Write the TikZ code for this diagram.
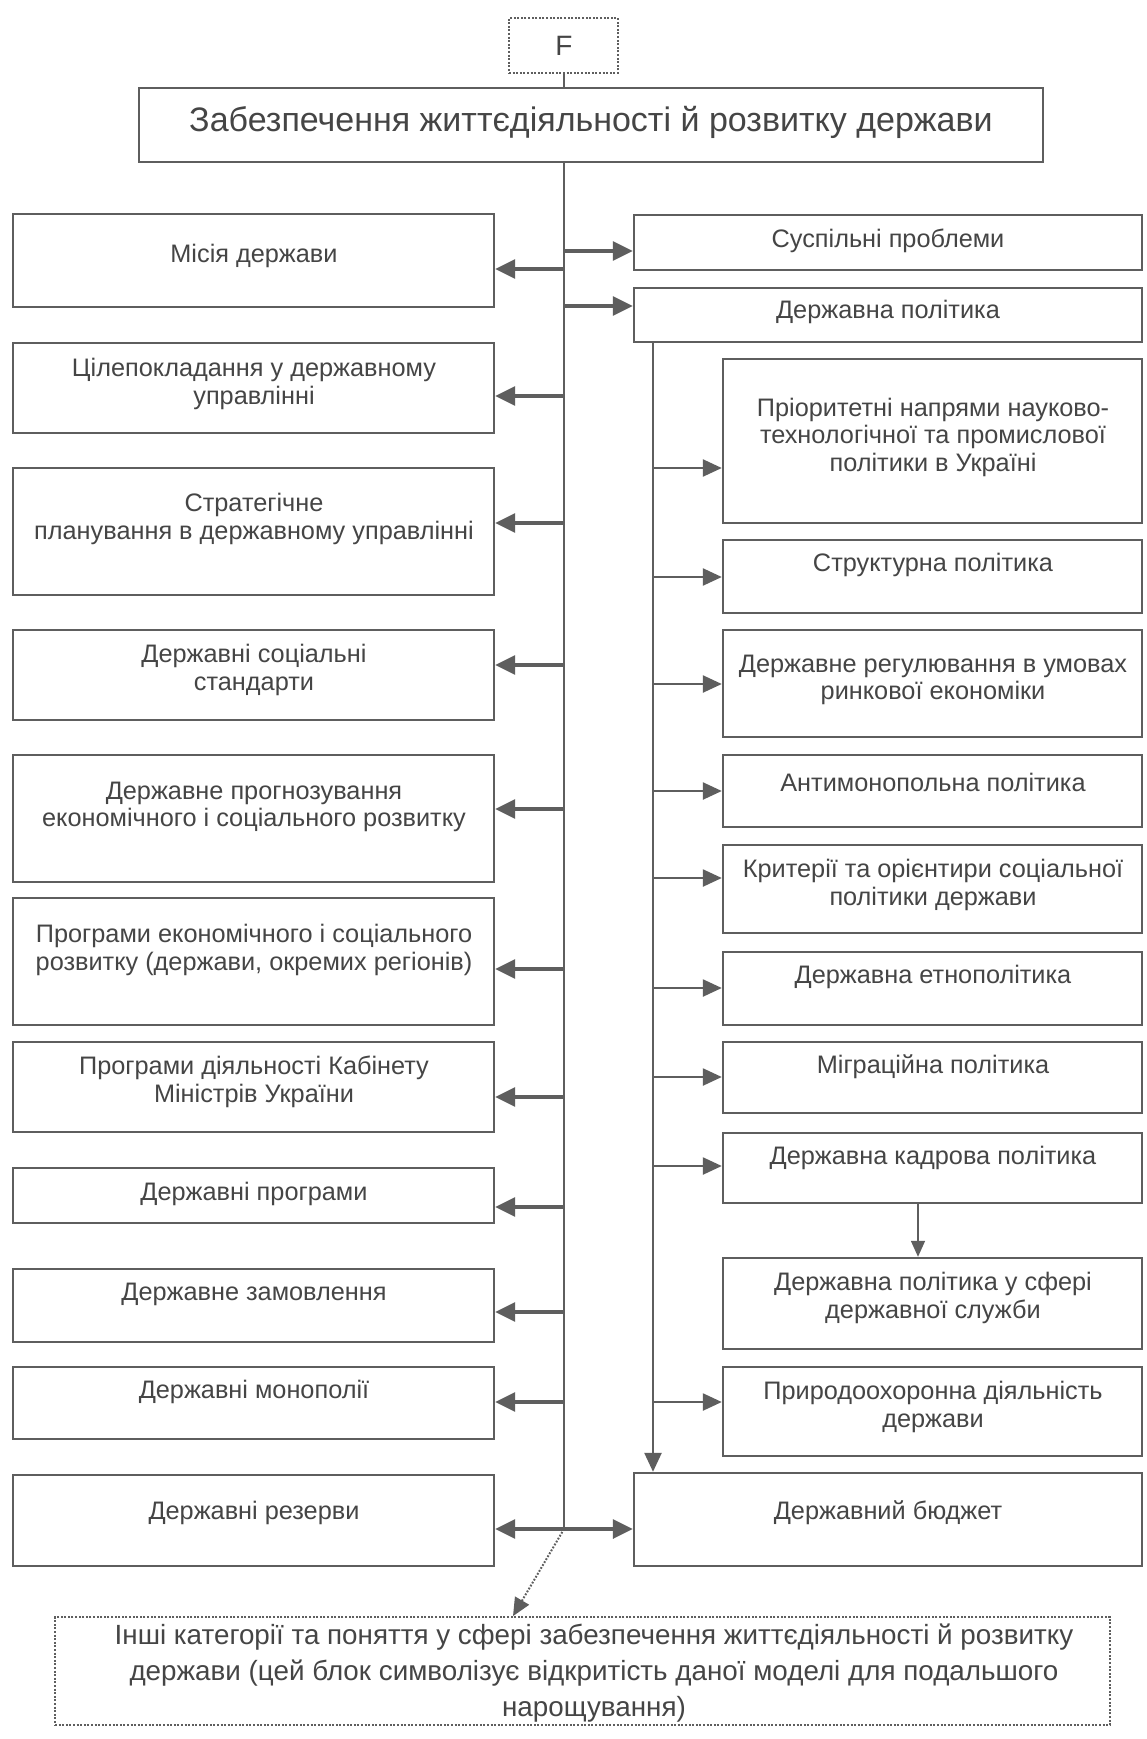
\documentclass[tikz,border=0pt]{standalone}
\usepackage{fontspec}
\setmainfont{Liberation Sans}
\usetikzlibrary{arrows.meta}
\definecolor{ln}{HTML}{5E5E5E}
\definecolor{tx}{HTML}{454545}
\newcommand\bx[6][]{\node[box,minimum width={#4-#2},minimum height={#5-#3},#1] (#6) at ({(#2+#4)/2},{(#3+#5)/2}) {};}
\newcommand\larr[2]{\draw[arr] (tr |- 0,#2) -- (#1.east |- 0,#2);}
\newcommand\rarr[2]{\draw[arr] (tr |- 0,#2) -- (#1.west |- 0,#2);}
\newcommand\sarr[2]{\draw[sarrow] (st |- 0,#2) -- (#1.west |- 0,#2);}
\begin{document}
\begin{tikzpicture}[x=1pt,y=-1pt,
  box/.style={draw=ln,line width=2.4pt,rectangle,inner sep=0pt,fill=white},
  dbox/.style={draw=ln,line width=1.8pt,dash pattern=on 2pt off 1.6pt},
  txt/.style={text=tx,align=center,inner sep=0pt,font=\fontsize{25.3}{27.5}\selectfont},
  trunk/.style={draw=ln,line width=1.7pt},
  arr/.style={draw=ln,line width=3.2pt,-{Triangle[length=20pt,width=19pt]}},
  sarrow/.style={draw=ln,line width=2.4pt,-{Triangle[length=19pt,width=17pt]}},
  darr/.style={draw=ln,line width=1.5pt,-{Triangle[length=16pt,width=14pt]}},
  dotarr/.style={draw=ln,line width=2pt,dash pattern=on 1.8pt off 1.6pt,-{Triangle[length=18pt,width=16pt]}}]
\useasboundingbox[fill=white] (0,0) rectangle (1146,1739);

% top
\bx[dbox]{509}{18}{618}{73}{F}
\node[text=tx,font=\fontsize{28}{30}\selectfont,inner sep=0pt] (Ft) at (564,46) {F};
\bx{139}{88}{1043}{162}{title}
\node[txt,font=\fontsize{34}{38}\selectfont] (titlet) at (591,122) {Забезпечення життєдіяльності й розвитку держави};

% trunk coordinates
\coordinate (tr) at (564,162);
\coordinate (tend) at (564,1529);
\coordinate (st) at (653,342);
\draw[trunk] (F.south -| tr) -- (title.north -| tr);
\draw[trunk] (tr) -- (tend);

% left boxes
\bx{13}{214}{494}{307}{l1}
\bx{13}{343}{494}{433}{l2}
\bx{13}{468}{494}{595}{l3}
\bx{13}{630}{494}{720}{l4}
\bx{13}{755}{494}{882}{l5}
\bx{13}{898}{494}{1025}{l6}
\bx{13}{1042}{494}{1132}{l7}
\bx{13}{1168}{494}{1223}{l8}
\bx{13}{1269}{494}{1342}{l9}
\bx{13}{1367}{494}{1439}{l10}
\bx{13}{1475}{494}{1566}{l11}
\node[txt] (l1t) at (254,256) {Місія держави};
\node[txt] (l2t) at (254,384) {Цілепокладання у державному\\управлінні};
\node[txt] (l3t) at (254,519) {Стратегічне\\планування в державному управлінні};
\node[txt] (l4t) at (254,670) {Державні соціальні\\стандарти};
\node[txt] (l5t) at (254,807) {Державне прогнозування\\економічного і соціального розвитку};
\node[txt] (l6t) at (254,950) {Програми економічного і соціального\\розвитку (держави, окремих регіонів)};
\node[txt] (l7t) at (254,1082) {Програми діяльності Кабінету\\Міністрів України};
\node[txt] (l8t) at (254,1194) {Державні програми};
\node[txt] (l9t) at (254,1294) {Державне замовлення};
\node[txt] (l10t) at (254,1392) {Державні монополії};
\node[txt] (l11t) at (254,1513) {Державні резерви};

% right boxes
\bx{634}{215}{1142}{270}{r1}
\bx{634}{288}{1142}{342}{r2}
\bx{634}{1473}{1142}{1566}{r3}
\node[txt] (r1t) at (888,241) {Суспільні проблеми};
\node[txt] (r2t) at (888,312) {Державна політика};
\node[txt] (r3t) at (888,1513) {Державний бюджет};

% inner right boxes
\bx{723}{359}{1142}{523}{i1}
\bx{723}{540}{1142}{613}{i2}
\bx{723}{630}{1142}{737}{i3}
\bx{723}{755}{1142}{827}{i4}
\bx{723}{845}{1142}{933}{i5}
\bx{723}{952}{1142}{1025}{i6}
\bx{723}{1042}{1142}{1113}{i7}
\bx{723}{1133}{1142}{1203}{i8}
\bx{723}{1258}{1142}{1349}{i9}
\bx{723}{1367}{1142}{1456}{i10}
\node[txt] (i1t) at (933,437) {Пріоритетні напрями науково-\\технологічної та промислової\\політики в Україні};
\node[txt] (i2t) at (933,565) {Структурна політика};
\node[txt] (i3t) at (933,680) {Державне регулювання в умовах\\ринкової економіки};
\node[txt] (i4t) at (933,782) {Антимонопольна політика};
\node[txt] (i5t) at (933,885) {Критерії та орієнтири соціальної\\політики держави};
\node[txt] (i6t) at (933,977) {Державна етнополітика};
\node[txt] (i7t) at (933,1067) {Міграційна політика};
\node[txt] (i8t) at (933,1158) {Державна кадрова політика};
\node[txt] (i9t) at (933,1298) {Державна політика у сфері\\державної служби};
\node[txt] (i10t) at (933,1407) {Природоохоронна діяльність\\держави};

% bottom box
\bx[dbox]{55}{1617}{1110}{1725}{other}
\node[txt,font=\fontsize{27.8}{36}\selectfont] (othert) at (594,1673) {Інші категорії та поняття у сфері забезпечення життєдіяльності й розвитку\\держави (цей блок символізує відкритість даної моделі для подальшого\\нарощування)};

% left arrows
\larr{l1}{269}
\larr{l2}{396}
\larr{l3}{523}
\larr{l4}{665}
\larr{l5}{809}
\larr{l6}{969}
\larr{l7}{1097}
\larr{l8}{1207}
\larr{l9}{1312}
\larr{l10}{1402}
\larr{l11}{1529}
% right arrows
\rarr{r1}{251}
\rarr{r2}{306}
\rarr{r3}{1529}
% sub trunk
\draw[sarrow] (st) -- (r3.north -| st);
\sarr{i1}{468}
\sarr{i2}{577}
\sarr{i3}{684}
\sarr{i4}{791}
\sarr{i5}{878}
\sarr{i6}{988}
\sarr{i7}{1077}
\sarr{i8}{1166}
\sarr{i10}{1402}
\coordinate (kd) at (918,0);
\draw[darr] (i8.south -| kd) -- (i9.north -| kd);
% dotted
\coordinate (ob) at (513,0);
\draw[dotarr] (tend) -- (other.north -| ob);
\end{tikzpicture}
\end{document}
